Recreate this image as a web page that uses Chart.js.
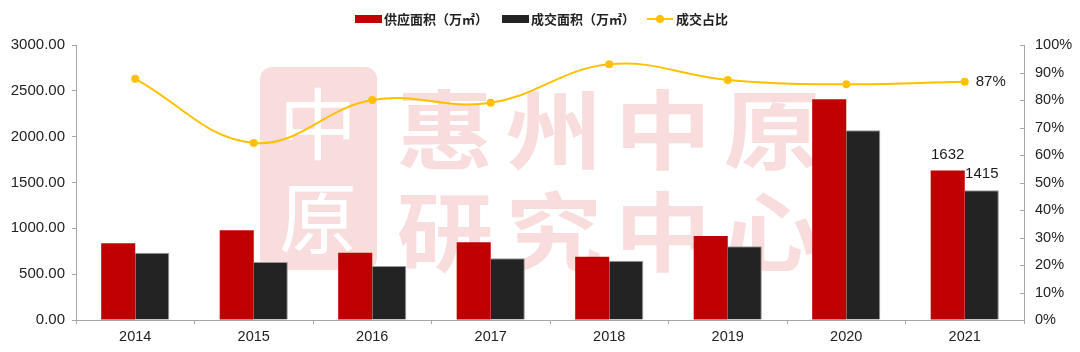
<!DOCTYPE html>
<html>
<head>
<meta charset="utf-8">
<script src="https://cdn.jsdelivr.net/npm/chart.js@4/dist/chart.umd.min.js"></script>
<style>
  html, body { margin: 0; padding: 0; background: #fff; }
</style>
</head>
<body>
<canvas id="chart" width="1080" height="352"></canvas>
<script>
// data
const years = ['2014', '2015', '2016', '2017', '2018', '2019', '2020', '2021'];
const supplyArea = [837, 978, 734, 847, 691, 916, 2407, 1632];   // 供应面积（万㎡）
const dealArea = [734, 633, 589, 673, 647, 804, 2069, 1415];     // 成交面积（万㎡）
const dealRatio = [0.877, 0.644, 0.80, 0.79, 0.93, 0.873, 0.857, 0.866]; // 成交占比
const legendNames = ['供应面积（万㎡）', '成交面积（万㎡）', '成交占比'];
const watermarkRows = ['惠州中原', '研究中心'];
const sealChars = ['中', '原'];

const RED = '#C00000';
const BLACK = '#232323';
const YELLOW = '#FFC000';
const AXIS = '#A6A6A6';
const NUM_FONT = '"Liberation Sans", Arial, sans-serif';
const CJK_FONT = '"Noto Sans CJK SC", "Liberation Sans", sans-serif';

// pale "惠州中原研究中心" watermark behind the bars
const watermark = {
  id: 'watermark',
  beforeDatasetsDraw(chart) {
    const ctx = chart.ctx;
    ctx.save();
    ctx.fillStyle = '#F9DCDC';
    ctx.beginPath();
    ctx.roundRect(260, 67, 117, 203, 12);
    ctx.fill();
    ctx.fillStyle = '#fff';
    ctx.textAlign = 'center';
    ctx.textBaseline = 'middle';
    ctx.font = '78px ' + CJK_FONT;
    ctx.fillText(sealChars[0], 318, 124);
    ctx.fillText(sealChars[1], 318, 218);

    ctx.fillStyle = '#F9DCDC';
    ctx.font = 'bold 86px ' + CJK_FONT;
    watermarkRows.forEach((row, r) => {
      [...row].forEach((ch, i) => {
        ctx.save();
        ctx.translate(445 + i * 109, 130 + r * 102);
        ctx.scale(1.12, 1);
        ctx.fillText(ch, 0, 0);
        ctx.restore();
      });
    });
    ctx.restore();
  }
};

// value labels for the last year, inward ticks on the right axis, legend
const extras = {
  id: 'extras',
  afterDatasetsDraw(chart) {
    const ctx = chart.ctx;
    const last = years.length - 1;
    ctx.save();
    ctx.fillStyle = '#1a1a1a';
    ctx.font = '15px ' + NUM_FONT;
    ctx.textBaseline = 'middle';
    [1, 2].forEach(di => {
      const bar = chart.getDatasetMeta(di).data[last];
      ctx.textAlign = 'center';
      ctx.fillText(String(chart.data.datasets[di].data[last]), bar.x, bar.y - 16);
    });
    const pt = chart.getDatasetMeta(0).data[last];
    ctx.textAlign = 'left';
    ctx.fillText(Math.round(dealRatio[last] * 100) + '%', pt.x + 11, pt.y);
    ctx.restore();
  },
  afterDraw(chart) {
    const ctx = chart.ctx;
    const y1 = chart.scales.y1;
    ctx.save();
    ctx.strokeStyle = AXIS;
    ctx.lineWidth = 1;
    y1.ticks.forEach((t, i) => {
      const py = Math.round(y1.getPixelForTick(i)) + 0.5;
      ctx.beginPath();
      ctx.moveTo(y1.left - 4, py);
      ctx.lineTo(y1.left, py);
      ctx.stroke();
    });

    // legend
    const ly = 19;
    ctx.font = 'bold 13px ' + CJK_FONT;
    ctx.textBaseline = 'middle';
    ctx.textAlign = 'left';
    ctx.fillStyle = RED;
    ctx.fillRect(355, ly - 4, 27, 8);
    ctx.fillStyle = '#222';
    ctx.fillText(legendNames[0], 384, ly);
    ctx.fillStyle = BLACK;
    ctx.fillRect(502, ly - 4, 27, 8);
    ctx.fillStyle = '#222';
    ctx.fillText(legendNames[1], 531, ly);
    ctx.strokeStyle = YELLOW;
    ctx.lineWidth = 2;
    ctx.beginPath();
    ctx.moveTo(647, ly);
    ctx.lineTo(673, ly);
    ctx.stroke();
    ctx.fillStyle = YELLOW;
    ctx.beginPath();
    ctx.arc(660, ly, 4, 0, Math.PI * 2);
    ctx.fill();
    ctx.fillStyle = '#222';
    ctx.fillText(legendNames[2], 676, ly);
    ctx.restore();
  }
};

new Chart(document.getElementById('chart').getContext('2d'), {
  data: {
    labels: years,
    datasets: [
      {
        type: 'line',
        label: legendNames[2],
        data: dealRatio,
        yAxisID: 'y1',
        borderColor: YELLOW,
        backgroundColor: YELLOW,
        borderWidth: 2,
        pointRadius: 4,
        pointBackgroundColor: YELLOW,
        pointBorderWidth: 0,
        tension: 0.4,
        order: 0
      },
      {
        type: 'bar',
        label: legendNames[0],
        data: supplyArea,
        yAxisID: 'y',
        backgroundColor: RED,
        categoryPercentage: 0.575,
        barPercentage: 1.0,
        order: 1
      },
      {
        type: 'bar',
        label: legendNames[1],
        data: dealArea,
        yAxisID: 'y',
        backgroundColor: BLACK,
        borderColor: '#9a9a9a',
        borderWidth: { top: 1, right: 1, left: 0, bottom: 0 },
        categoryPercentage: 0.575,
        barPercentage: 1.0,
        order: 1
      }
    ]
  },
  options: {
    responsive: false,
    animation: false,
    layout: { padding: { top: 45, left: 0, right: 0, bottom: 0 } },
    plugins: {
      legend: { display: false },
      tooltip: { enabled: false }
    },
    scales: {
      x: {
        offset: true,
        grid: { offset: true, drawOnChartArea: false, tickLength: 4, color: AXIS },
        border: { color: AXIS },
        ticks: { color: '#222', font: { family: NUM_FONT, size: 14.5 }, padding: 4 },
        afterFit(s) { s.height = 32; }
      },
      y: {
        position: 'left',
        min: 0,
        max: 3000,
        grid: { drawOnChartArea: false, tickLength: 4, color: AXIS },
        border: { color: AXIS },
        ticks: {
          stepSize: 500,
          color: '#222',
          padding: 7,
          font: { family: NUM_FONT, size: 15 },
          callback: v => v.toFixed(2)
        },
        afterFit(s) { s.width = 76; }
      },
      y1: {
        position: 'right',
        min: 0,
        max: 1,
        grid: { drawOnChartArea: false, drawTicks: false },
        border: { color: AXIS },
        ticks: {
          stepSize: 0.1,
          color: '#222',
          padding: 11,
          font: { family: NUM_FONT, size: 14.5 },
          callback: v => Math.round(v * 100) + '%'
        },
        afterFit(s) { s.width = 56; }
      }
    }
  },
  plugins: [watermark, extras]
});
</script>
</body>
</html>
